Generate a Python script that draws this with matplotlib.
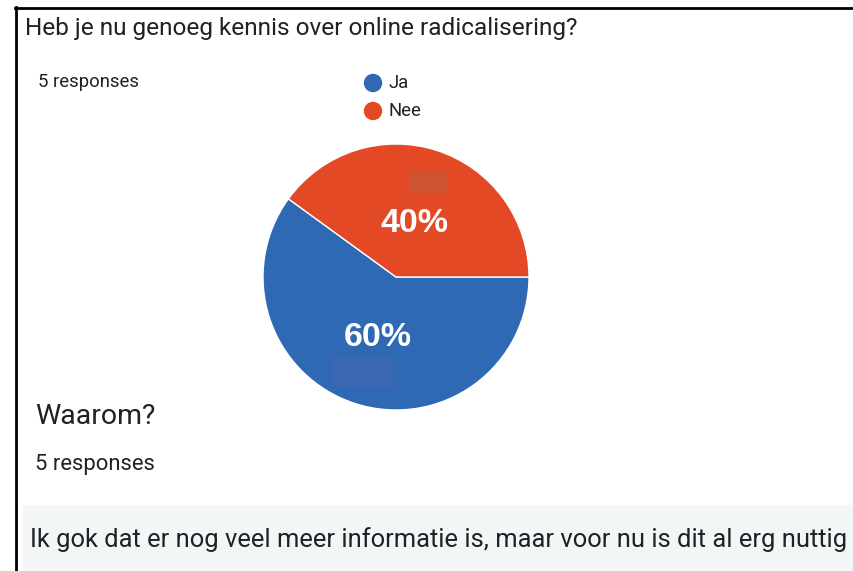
import matplotlib
matplotlib.use("Agg")
import matplotlib.pyplot as plt
from matplotlib.patches import Rectangle, Ellipse
from matplotlib.lines import Line2D

# ── Data ──
labels = ["Ja", "Nee"]
counts = [3, 2]
colors = ["#2f69b4", "#e34925"]
n_responses = 5

title = "Heb je nu genoeg kennis over online radicalisering?"
question2 = "Waarom?"
answer = "Ik gok dat er nog veel meer informatie is, maar voor nu is dit al erg nuttig"

W, H = 854, 571
fig = plt.figure(figsize=(W / 100, H / 100), dpi=100)
fig.patch.set_facecolor("white")


def px(x, y):
    """pixel coords (top-left origin) -> figure fraction"""
    return x / W, 1 - y / H


text_col = "#202124"
font = "Roboto"

# border lines (left + top)
fig.add_artist(Line2D([16 / W, 16 / W], [0, 1 - 7 / H], color="black",
                      lw=2.0, transform=fig.transFigure))
fig.add_artist(Line2D([15 / W, 1], [1 - 8 / H, 1 - 8 / H], color="black",
                      lw=2.0, transform=fig.transFigure))

# header texts
fig.text(*px(25, 35), title, fontsize=17.6, family=font, color=text_col,
         va="baseline", ha="left")
fig.text(*px(38, 87), f"{n_responses} responses", fontsize=13.3, family=font,
         color=text_col, va="baseline", ha="left")

# legend
for i, lab in enumerate(labels):
    ly = 83 + i * 28
    fig.add_artist(Ellipse(px(373, ly), 17 / W, 17 / H, color=colors[i],
                           transform=fig.transFigure))
    fig.text(*px(389, ly + 5), lab, fontsize=13.3, family=font, color=text_col,
             va="baseline", ha="left")

# pie
cx, cy, r = 396, 277, 133
ax = fig.add_axes([(cx - r) / W, (H - cy - r) / H, 2 * r / W, 2 * r / H])
wedges, _, autotexts = ax.pie(
    counts, colors=colors, startangle=0, counterclock=False,
    autopct="%1.0f%%", pctdistance=0.45,
    wedgeprops=dict(edgecolor="white", linewidth=1),
    textprops=dict(color="white", fontsize=24.5, fontweight="bold",
                   family="Liberation Sans"))
for t in autotexts:
    t.set_va("center_baseline")
ax.set_xlim(-1, 1)
ax.set_ylim(-1, 1)
ax.set_aspect("equal")
ax.axis("off")

# redaction boxes over the pie
for (x0, y0, w, h), c in [((409, 172, 38, 20), "#cf5233"),
                          ((331, 357, 62, 29), "#3b66b1")]:
    fig.add_artist(Rectangle(px(x0, y0 + h), w / W, h / H, color=c,
                             transform=fig.transFigure, zorder=5))

# second question
fig.text(*px(35, 424), question2, fontsize=20.5, family=font, color=text_col,
         va="baseline", ha="left")
fig.text(*px(35, 470), f"{n_responses} responses", fontsize=15.8, family=font,
         color=text_col, va="baseline", ha="left")

# answer box
fig.add_artist(Rectangle(px(23, 571), (W - 23) / W, 66 / H, color="#f3f6f7",
                         transform=fig.transFigure, zorder=0))
fig.text(*px(30, 547), answer, fontsize=18.4, family=font, color=text_col,
         va="baseline", ha="left")

fig.savefig("out.png", dpi=100)
